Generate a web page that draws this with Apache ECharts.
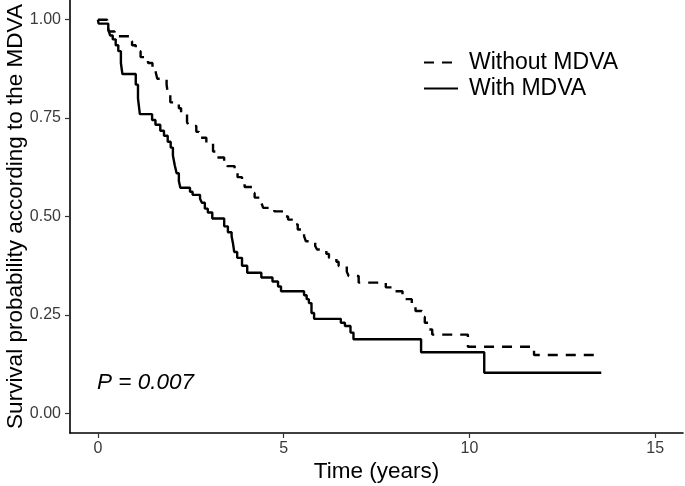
<!DOCTYPE html>
<html>
<head>
<meta charset="utf-8">
<script src="https://cdn.jsdelivr.net/npm/echarts@6/dist/echarts.min.js"></script>
<style>
html,body{margin:0;padding:0;background:#fff;}
#chart{width:685px;height:486px;}
</style>
</head>
<body>
<div id="chart"></div>
<script>
// Kaplan–Meier steps: [time (years), survival]
const withoutTimes = [0, 0.25, 0.30, 0.45, 0.85, 0.92, 1.02, 1.15, 1.35, 1.47, 1.56, 1.60, 1.85, 1.88, 1.95, 2.18, 2.24, 2.40, 2.45, 2.65, 2.72, 2.92, 3.10, 3.20, 3.40, 3.48, 3.68, 3.76, 3.88, 3.95, 4.15, 4.22, 4.40, 4.45, 4.75, 5.05, 5.12, 5.30, 5.38, 5.55, 5.60, 5.85, 5.90, 6.15, 6.22, 6.42, 6.48, 6.70, 6.75, 7.02, 7.75, 8.00, 8.20, 8.28, 8.45, 8.55, 8.72, 8.80, 8.90, 9.00, 9.96, 11.74, 13.55];
const withoutSurv  = [1.00, 0.985, 0.97, 0.958, 0.945, 0.935, 0.92, 0.905, 0.89, 0.88, 0.865, 0.85, 0.835, 0.815, 0.79, 0.775, 0.76, 0.74, 0.73, 0.715, 0.70, 0.685, 0.665, 0.65, 0.64, 0.628, 0.615, 0.60, 0.585, 0.575, 0.56, 0.548, 0.535, 0.522, 0.513, 0.50, 0.492, 0.48, 0.467, 0.45, 0.437, 0.425, 0.416, 0.405, 0.395, 0.385, 0.374, 0.36, 0.349, 0.332, 0.32, 0.31, 0.30, 0.29, 0.275, 0.26, 0.245, 0.23, 0.213, 0.20, 0.169, 0.148, 0.148];

const withTimes = [0, 0.02, 0.28, 0.33, 0.40, 0.48, 0.55, 0.62, 0.66, 1.02, 1.08, 1.13, 1.46, 1.55, 1.68, 1.78, 1.88, 1.96, 2.02, 2.07, 2.12, 2.18, 2.22, 2.48, 2.55, 2.75, 2.80, 2.88, 2.96, 3.08, 3.40, 3.50, 3.60, 3.64, 3.67, 3.75, 3.88, 4.02, 4.40, 4.70, 4.85, 4.93, 5.55, 5.62, 5.68, 5.75, 5.82, 6.54, 6.65, 6.80, 6.88, 8.70, 10.40, 13.55];
const withSurv  = [1.00, 0.99, 0.975, 0.96, 0.95, 0.935, 0.92, 0.89, 0.862, 0.835, 0.80, 0.76, 0.745, 0.733, 0.718, 0.705, 0.69, 0.675, 0.655, 0.63, 0.61, 0.59, 0.573, 0.563, 0.555, 0.545, 0.535, 0.52, 0.51, 0.495, 0.475, 0.46, 0.45, 0.43, 0.41, 0.395, 0.375, 0.357, 0.345, 0.335, 0.322, 0.31, 0.30, 0.29, 0.28, 0.255, 0.24, 0.23, 0.222, 0.205, 0.188, 0.155, 0.103, 0.103];

const seriesNames = ['Without MDVA', 'With MDVA'];
const xTicks = [0, 5, 10, 15];
const yTicks = [0, 0.25, 0.5, 0.75, 1.0];
const pText = 'P = 0.007';

const pairs = (ts, ss) => ts.map((t, i) => [t, ss[i]]);
const FONT = 'Liberation Sans, Arial, sans-serif';

const chart = echarts.init(document.getElementById('chart'), null, {renderer: 'canvas'});
chart.setOption({
  animation: false,
  backgroundColor: '#ffffff',
  grid: {left: 70, right: 2, top: 0, bottom: 53, containLabel: false, outerBoundsMode: 'none'},
  legend: {
    orient: 'vertical',
    left: 418,
    top: 46,
    itemWidth: 34,
    itemHeight: 14,
    itemGap: 3,
    data: seriesNames,
    itemStyle: {opacity: 0},
    textStyle: {fontFamily: FONT, fontSize: 23, color: '#000', padding: [0, 0, 0, 6]}
  },
  xAxis: {
    type: 'value',
    min: -0.75,
    max: 15.75,
    name: 'Time (years)',
    nameLocation: 'middle',
    nameGap: 27,
    nameMoveOverlap: false,
    nameTextStyle: {fontFamily: FONT, fontSize: 22.5, color: '#000'},
    splitLine: {show: false},
    axisLine: {show: true, onZero: false, lineStyle: {color: '#000', width: 1.6}},
    axisTick: {show: true, length: 5, lineStyle: {color: '#333', width: 1.2}, customValues: xTicks},
    axisLabel: {customValues: xTicks, fontFamily: FONT, fontSize: 16, color: '#3a3a3a', margin: 8}
  },
  yAxis: {
    type: 'value',
    min: -0.05,
    max: 1.05,
    name: 'Survival probability according to the MDVA',
    nameLocation: 'middle',
    nameGap: 43,
    nameMoveOverlap: false,
    nameTextStyle: {fontFamily: FONT, fontSize: 22.5, color: '#000'},
    splitLine: {show: false},
    axisLine: {show: true, onZero: false, lineStyle: {color: '#000', width: 1.6}},
    axisTick: {show: true, length: 5, lineStyle: {color: '#333', width: 1.2}, customValues: yTicks},
    axisLabel: {customValues: yTicks, fontFamily: FONT, fontSize: 16, color: '#3a3a3a', margin: 9,
      formatter: v => v.toFixed(2)}
  },
  series: [
    {
      name: seriesNames[0],
      type: 'line',
      step: 'end',
      symbol: 'none',
      data: pairs(withoutTimes, withoutSurv),
      lineStyle: {color: '#000', width: 2.4, type: [10, 8]},
      itemStyle: {color: '#000'},
      z: 3
    },
    {
      name: seriesNames[1],
      type: 'line',
      step: 'end',
      symbol: 'none',
      data: pairs(withTimes, withSurv),
      lineStyle: {color: '#000', width: 2.4, type: 'solid'},
      itemStyle: {color: '#000'},
      z: 4
    }
  ],
  graphic: [{
    type: 'text',
    left: 97,
    top: 371,
    style: {text: pText, fontFamily: FONT, fontSize: 22.5, fontStyle: 'italic', fill: '#000'}
  }]
});
</script>
</body>
</html>
